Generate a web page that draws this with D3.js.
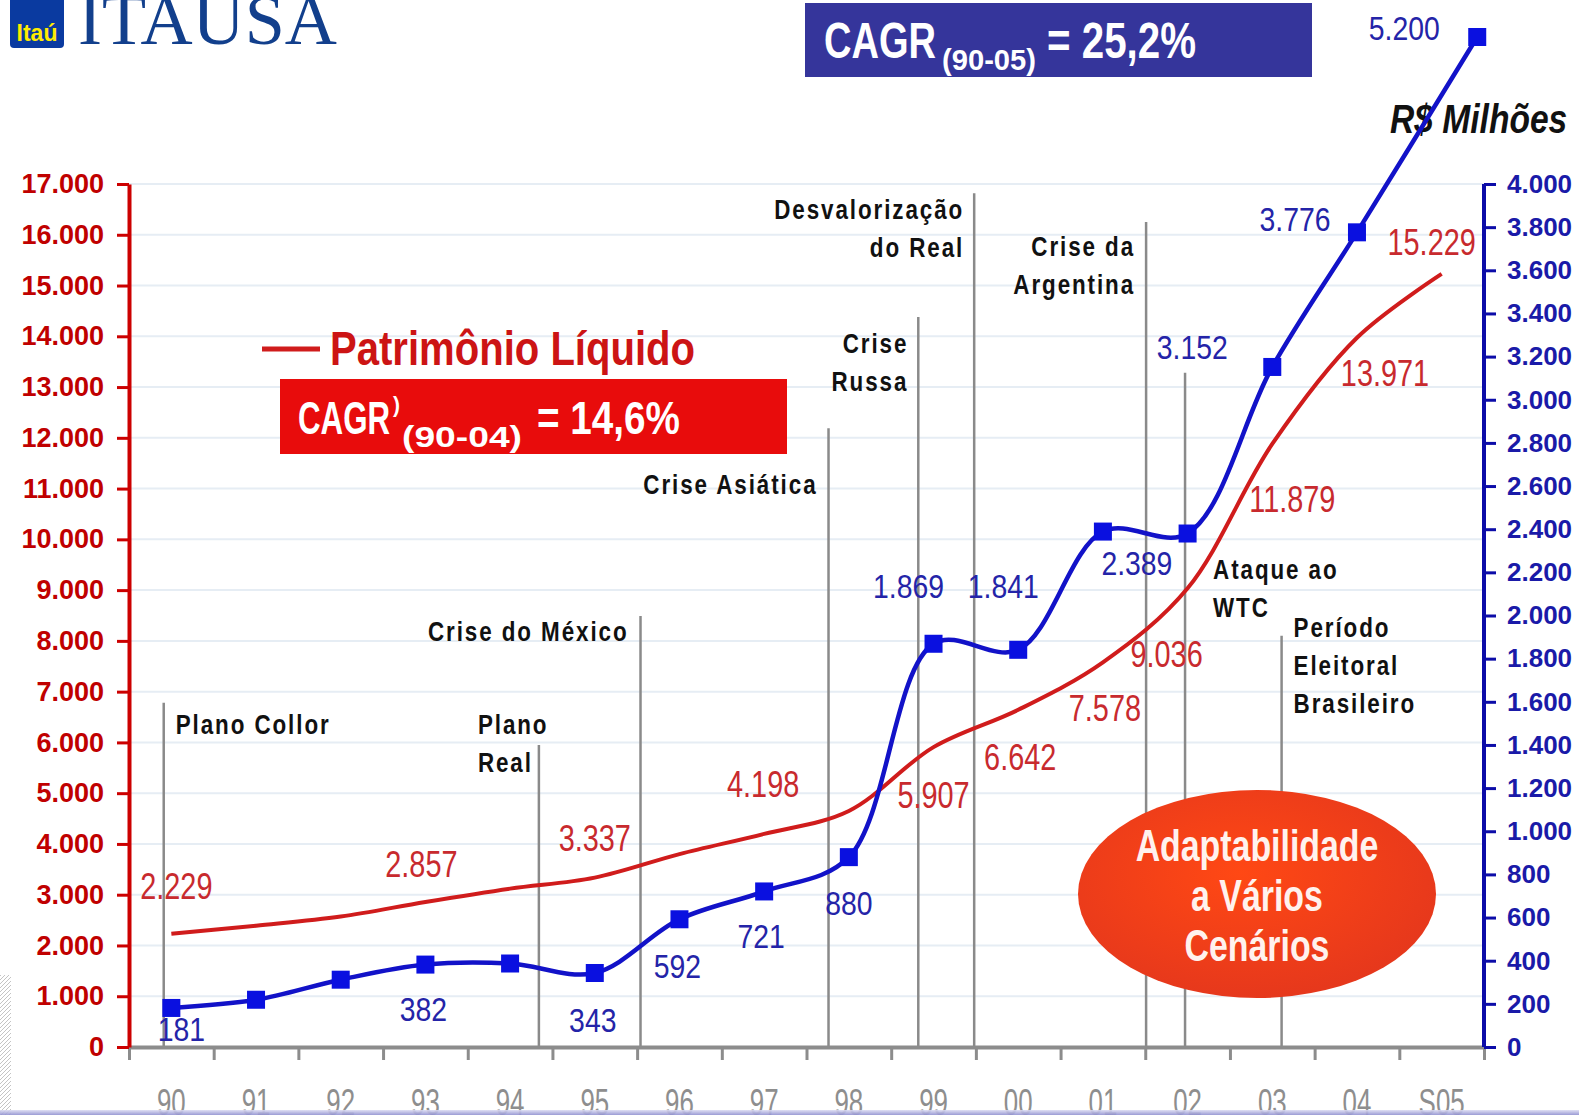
<!DOCTYPE html>
<html>
<head>
<meta charset="utf-8">
<script src="https://cdn.jsdelivr.net/npm/d3@7"></script>
<style>
html, body { margin: 0; padding: 0; background: #fff; }
svg { display: block; }
</style>
</head>
<body>
<svg id="chart" width="1579" height="1115"></svg>
<script>
// dados
var categorias = ["90", "91", "92", "93", "94", "95", "96", "97", "98", "99", "00", "01", "02", "03", "04", "S05"];
var patrimonioLiquido = [2229, 2390, 2570, 2857, 3120, 3337, 3800, 4198, 4650, 5907, 6642, 7578, 9036, 11879, 13971, 15229];
var serieAzul = [181, 219, 312, 382, 387, 343, 592, 721, 880, 1869, 1841, 2389, 2380, 3152, 3776, 5200];
var ticksEsquerda = d3.range(0, 17001, 1000);
var ticksDireita = d3.range(0, 4001, 200);

var eventos = [["Plano Collor"], ["Plano", "Real"], ["Crise do México"], ["Crise Asiática"], ["Crise", "Russa"],
  ["Desvalorização", "do Real"], ["Crise da", "Argentina"], ["Ataque ao", "WTC"], ["Período", "Eleitoral", "Brasileiro"]];
var eventoPos = [0.41, 4.84, 6.04, 8.26, 9.32, 9.98, 12.01, 12.47, 13.61];
var eventoTopo = [6780, 5950, 8490, 12190, 14380, 16820, 16250, 13280, 8100];

// posicionamento dos rotulos (layout)
var rotVermelho = [[5, -48], null, null, [-4, -38], null, [0, -40], null, [-1, -50], null, [0, 48], [2, 47], [2, 45], [-21, 65], [20, 55], [28, 35], [-10, -32]];
var rotAzul = [[10, 21], null, null, [-2, 45], null, [-2, 47], [-2, 47], [-3, 45], [0, 46], [-25, -58], [-15, -64], [34, 32], null, [-80, -20], [-62, -13], [-73, -9]];
var rotEvento = [
  { anchor: "start", dx: 12, y: 6170 }, { anchor: "start", dx: -61, y: 6170 }, { anchor: "end", dx: -12, y: 8000 },
  { anchor: "end", dx: -11, y: 10900 }, { anchor: "end", dx: -10, y: 13670 }, { anchor: "end", dx: -10, y: 16320 },
  { anchor: "end", dx: -11, y: 15580 }, { anchor: "start", dx: 28, y: 9220 }, { anchor: "start", dx: 12, y: 8080 }];

var SANS = "'Liberation Sans', Arial, sans-serif";
var RED = "#d01c1c", BLUE = "#1212c8";

var svg = d3.select("#chart");
var x0 = 129, x1 = 1484, yBase = 1047, yTop = 184;

var x = d3.scaleBand().domain(categorias).range([x0, x1]).padding(0);
var xi = d3.scaleLinear().domain([0, categorias.length]).range([x0, x1]);
var yL = d3.scaleLinear().domain([0, 17000]).range([yBase, yTop]);
var yR = d3.scaleLinear().domain([0, 4000, 5200]).range([yBase, yTop, 37]);

var fmt = d3.formatLocale({ decimal: ",", thousands: ".", grouping: [3], currency: ["R$", ""] }).format(",d");

// texto "estreito": Liberation Sans comprimido na horizontal
function narrow(parent, px, py, sx, size, weight) {
  return parent.append("g").attr("transform", "translate(" + px + "," + py + ") scale(" + sx + ",1)")
    .append("text").style("font-family", SANS).style("font-size", size + "px").style("font-weight", weight || "normal");
}

var defs = svg.append("defs");
var rg = defs.append("radialGradient").attr("id", "oval").attr("cx", "45%").attr("cy", "40%").attr("r", "60%");
rg.append("stop").attr("offset", "0%").attr("stop-color", "#ff4814");
rg.append("stop").attr("offset", "100%").attr("stop-color", "#e6381c");
var lg = defs.append("linearGradient").attr("id", "faixa").attr("x1", 0).attr("y1", 0).attr("x2", 0).attr("y2", 1);
lg.append("stop").attr("offset", "0%").attr("stop-color", "#dcdcf2");
lg.append("stop").attr("offset", "100%").attr("stop-color", "#9090d0");
var hatch = defs.append("pattern").attr("id", "hatch").attr("width", 4).attr("height", 4)
  .attr("patternUnits", "userSpaceOnUse");
hatch.append("path").attr("d", "M0,4L4,0").attr("stroke", "#c4c4c4").attr("stroke-width", 1);

svg.append("rect").attr("x", 0).attr("y", 975).attr("width", 11).attr("height", 140).attr("fill", "url(#hatch)");

// grade horizontal
svg.append("g").selectAll("line").data(ticksEsquerda.slice(1)).enter().append("line")
  .attr("x1", x0).attr("x2", x1).attr("y1", yL).attr("y2", yL)
  .attr("stroke", "#e6edf4").attr("stroke-width", 2);

// logo
svg.append("rect").attr("x", 10).attr("y", -6).attr("width", 54).attr("height", 54).attr("rx", 4).attr("fill", "#0a3aa0");
svg.append("text").attr("x", 37).attr("y", 41).attr("text-anchor", "middle")
  .style("font", "bold 23px " + SANS).attr("fill", "#ffec00").text("Itaú");
svg.append("text").attr("x", 78).attr("y", 44).attr("textLength", 259).attr("lengthAdjust", "spacingAndGlyphs")
  .style("font", "72px 'Liberation Serif', 'Times New Roman', serif").attr("fill", "#123f8c").text("ITAUSA");

// eventos
var ev = svg.append("g");
eventos.forEach(function (linhas, i) {
  var ex = xi(eventoPos[i]);
  ev.append("line").attr("x1", ex).attr("x2", ex).attr("y1", yL(eventoTopo[i])).attr("y2", yBase)
    .attr("stroke", "#8a8a8a").attr("stroke-width", 2.5);
  var t = narrow(ev, ex + rotEvento[i].dx, yL(rotEvento[i].y), 0.8, 28, "bold")
    .attr("text-anchor", rotEvento[i].anchor).style("letter-spacing", "2.4px").attr("fill", "#111");
  linhas.forEach(function (l, k) {
    t.append("tspan").attr("x", 0).attr("y", k * 38).text(l);
  });
});

// eixo x
var gx = svg.append("g").attr("transform", "translate(0," + yBase + ")")
  .call(d3.axisBottom(xi).tickValues(d3.range(0, categorias.length + 1)).tickFormat("").tickSize(13).tickSizeOuter(0));
gx.select(".domain").attr("stroke", "#8c8c8c").attr("stroke-width", 4);
gx.selectAll(".tick line").attr("stroke", "#8c8c8c").attr("stroke-width", 3);

var gxl = svg.append("g");
categorias.forEach(function (c) {
  narrow(gxl, x(c) + x.bandwidth() / 2, 1115, 0.7, 37).attr("text-anchor", "middle").attr("fill", "#8e8e8e").text(c);
});
svg.append("rect").attr("x", 0).attr("y", 1110).attr("width", 1579).attr("height", 5).attr("fill", "url(#faixa)").attr("opacity", 0.9);

// eixo esquerdo
var gl = svg.append("g").attr("transform", "translate(" + x0 + ",0)")
  .call(d3.axisLeft(yL).tickValues(ticksEsquerda).tickFormat(fmt).tickSize(12).tickSizeOuter(0).tickPadding(13));
gl.select(".domain").attr("stroke", "#cc0000").attr("stroke-width", 4);
gl.selectAll(".tick line").attr("stroke", "#cc0000").attr("stroke-width", 3);
gl.selectAll(".tick text").attr("fill", "#c00000").style("font", "bold 27px " + SANS);

// eixo direito
var gr = svg.append("g").attr("transform", "translate(" + x1 + ",0)")
  .call(d3.axisRight(yR).tickValues(ticksDireita).tickFormat(fmt).tickSize(12).tickSizeOuter(0).tickPadding(11));
gr.select(".domain").attr("stroke", "#0c0ca8").attr("stroke-width", 4).attr("d", "M0," + yBase + "V" + yTop);
gr.selectAll(".tick line").attr("stroke", "#0c0ca8").attr("stroke-width", 3);
gr.selectAll(".tick text").attr("fill", "#1a1aa8").style("font", "bold 26px " + SANS);

narrow(svg, 1390, 133, 0.84, 40, "bold").style("font-style", "italic").attr("fill", "#111").text("R$ Milhões");

// linhas
function cx(i) { return x(categorias[i]) + x.bandwidth() / 2; }
function bx(i) { return x(categorias[i]) + x.bandwidth() * (i === categorias.length - 1 ? 0.92 : 0.5); }

svg.append("path").datum(patrimonioLiquido)
  .attr("d", d3.line().x(function (d, i) { return cx(i); }).y(function (d) { return yL(d); }).curve(d3.curveCatmullRom.alpha(0.5)))
  .attr("fill", "none").attr("stroke", RED).attr("stroke-width", 4);

svg.append("path").datum(serieAzul)
  .attr("d", d3.line().x(function (d, i) { return bx(i); }).y(function (d) { return yR(d); }).curve(d3.curveCatmullRom.alpha(0.5)))
  .attr("fill", "none").attr("stroke", BLUE).attr("stroke-width", 4.5);

svg.append("g").selectAll("rect").data(serieAzul).enter().append("rect")
  .attr("x", function (d, i) { return bx(i) - 9; }).attr("y", function (d) { return yR(d) - 9; })
  .attr("width", 18).attr("height", 18).attr("fill", "#0a10e0");

// rotulos de dados
var gv = svg.append("g");
patrimonioLiquido.forEach(function (d, i) {
  if (!rotVermelho[i]) return;
  narrow(gv, cx(i) + rotVermelho[i][0], yL(d) + rotVermelho[i][1], 0.78, 37)
    .attr("dy", "0.36em").attr("text-anchor", "middle").attr("fill", "#c82a2e").text(fmt(d));
});
var ga = svg.append("g");
serieAzul.forEach(function (d, i) {
  if (!rotAzul[i]) return;
  narrow(ga, bx(i) + rotAzul[i][0], yR(d) + rotAzul[i][1], 0.86, 33)
    .attr("dy", "0.36em").attr("text-anchor", "middle").attr("fill", "#2424a8").text(fmt(d));
});

// legenda e CAGR
svg.append("line").attr("x1", 262).attr("x2", 320).attr("y1", 349).attr("y2", 349).attr("stroke", RED).attr("stroke-width", 5);
narrow(svg, 330, 365, 0.835, 48, "bold").attr("fill", "#cc1414").text("Patrimônio Líquido");

function piece(px, py, w, size, s) {
  svg.append("text").attr("x", px).attr("y", py).attr("textLength", w).attr("lengthAdjust", "spacingAndGlyphs")
    .style("font", "bold " + size + "px " + SANS).attr("fill", "#fff").text(s);
}
svg.append("rect").attr("x", 280).attr("y", 379).attr("width", 507).attr("height", 75).attr("fill", "#e80c0c");
piece(298, 434, 92, 46, "CAGR");
piece(393, 412, 7, 22, ")");
piece(402, 447, 120, 30, "(90-04)");
piece(537, 434, 143, 46, "= 14,6%");

svg.append("rect").attr("x", 805).attr("y", 3).attr("width", 507).attr("height", 74).attr("fill", "#35359b");
piece(824, 58, 112, 50, "CAGR");
piece(942, 70, 94, 30, "(90-05)");
piece(1047, 58, 149, 50, "= 25,2%");

// oval
svg.append("ellipse").attr("cx", 1257).attr("cy", 894).attr("rx", 179).attr("ry", 104).attr("fill", "url(#oval)");
var ov = narrow(svg, 1257, 861, 0.77, 44, "bold").attr("text-anchor", "middle").attr("fill", "#fff2ee");
["Adaptabilidade", "a Vários", "Cenários"].forEach(function (l, k) {
  ov.append("tspan").attr("x", 0).attr("y", k * 50).text(l);
});
</script>
</body>
</html>
